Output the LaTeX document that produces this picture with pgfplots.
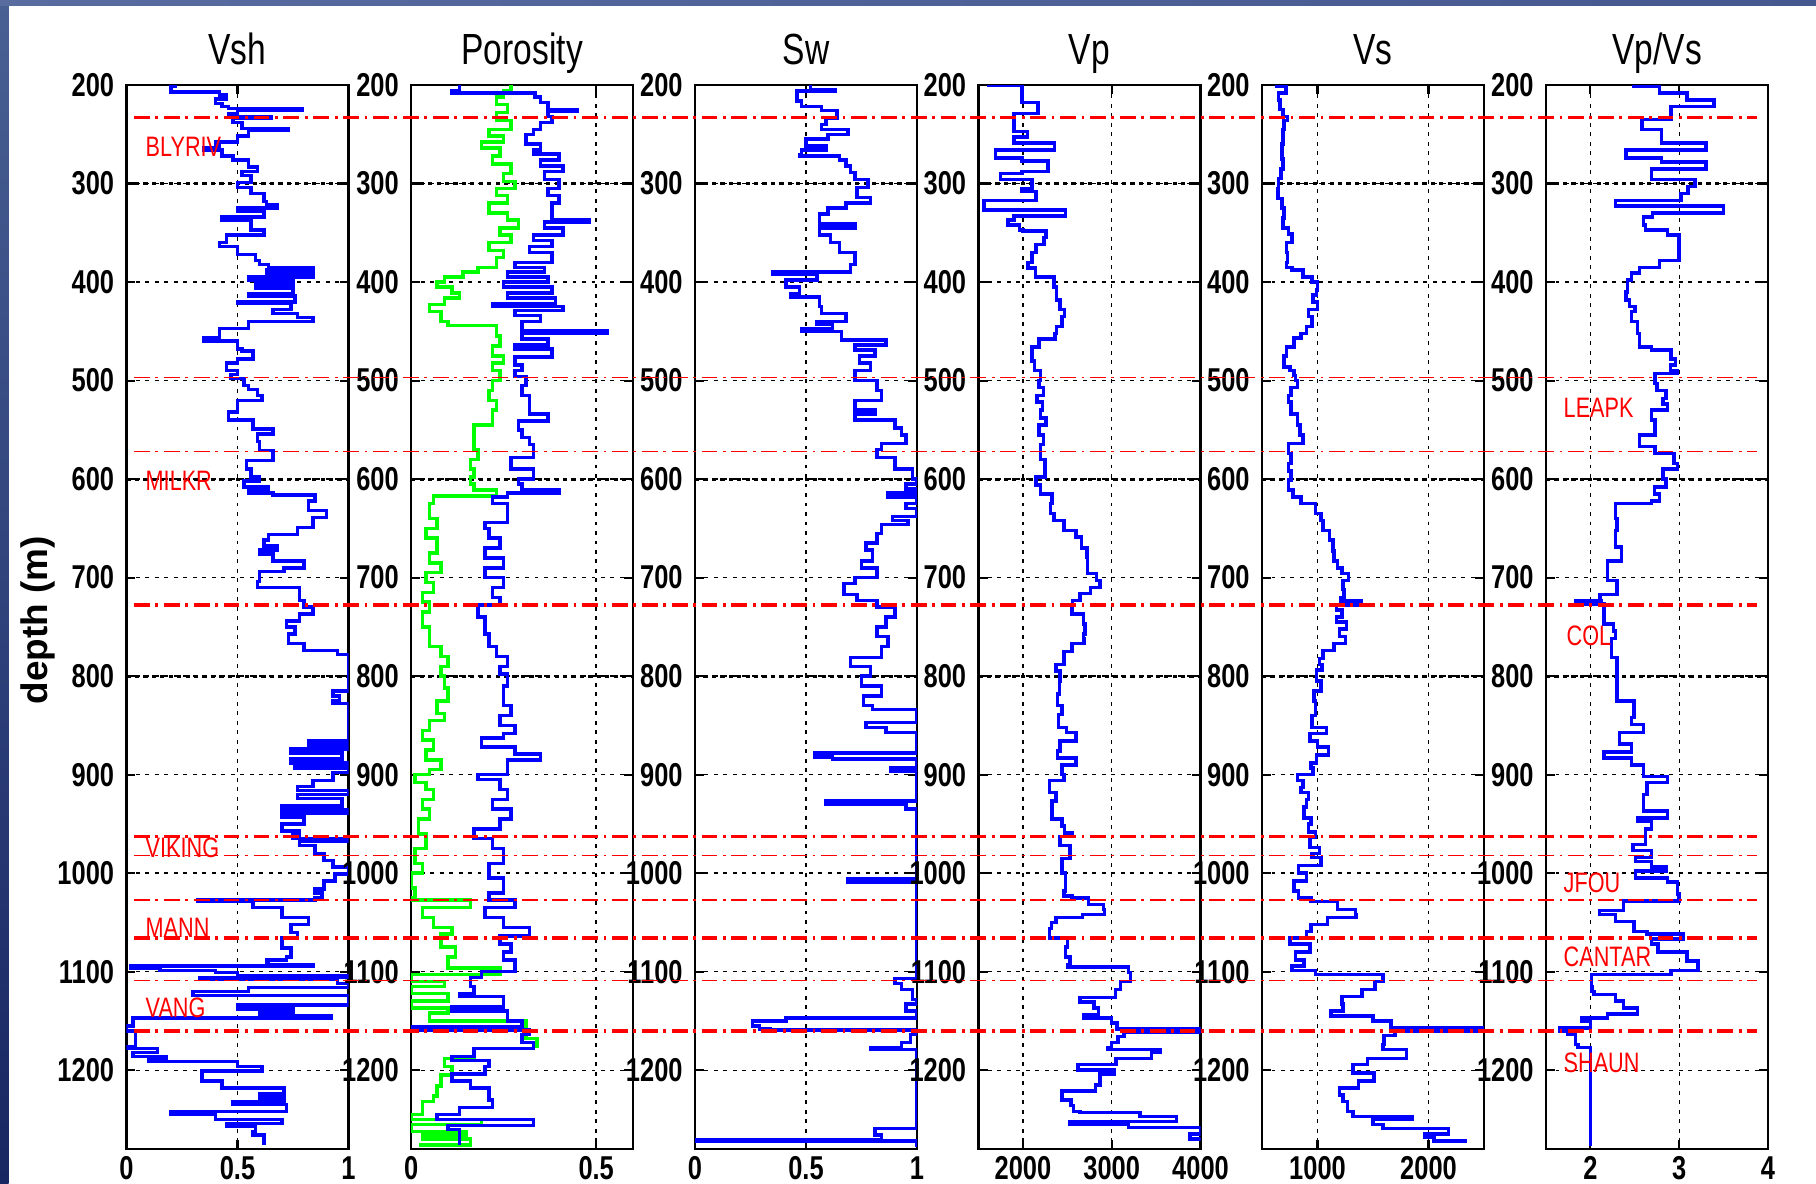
\documentclass[border=0pt]{standalone}
\usepackage{fontspec}
\setmainfont{Liberation Sans}
\newfontfamily\narrowfont[FakeStretch=0.77]{Liberation Sans}
\usepackage{pgfplots}
\pgfplotsset{compat=1.18}

\pgfplotsset{
  wellax/.style={
    scale only axis, width=22.2mm, height=106.4mm, anchor=south west,
    y dir=reverse, ymin=200, ymax=1280,
    ytick={200,300,...,1200},
    tick align=inside, tick pos=both,
    major tick length=0.9mm,
    grid=major,
    major grid style={black, line width=0.4pt, dash pattern=on 1.1pt off 1.6pt},
    axis line style={black, line width=0.6pt},
    every tick/.style={black, line width=0.6pt},
    ticklabel style={font=\narrowfont\bfseries\fontsize{9.4}{9.4}\selectfont, text=black},
    /pgf/number format/assume math mode=true,
    /pgf/number format/1000 sep={},
    xticklabel style={inner sep=1pt, yshift=-1pt},
    every axis title shift=0pt,
    title style={at={(0.5,1)}, anchor=base, yshift=2.1mm, inner sep=0pt,
      font=\narrowfont\fontsize{12.4}{12.4}\selectfont},
    extra y ticks={300,600,800}, extra y tick labels={},
    extra y tick style={grid=major, major grid style={black, line width=0.9pt, dash pattern=on 1.2pt off 1.2pt}},
  },
  logline/.style={const plot mark right, color={rgb,255:red,0;green,0;blue,255}, line width=1pt, line join=miter},
  topline/.style={red, line width=#1, dash pattern=on 4.5pt off 1.6pt on 0.8pt off 1.6pt},
}

\begin{document}
\begin{tikzpicture}
\useasboundingbox (0,0) rectangle (181.6mm,118.3mm);
\shade[top color={rgb,255:red,72;green,96;blue,148}, bottom color={rgb,255:red,24;green,38;blue,98}]
  (0,0) rectangle (0.85mm,118.3mm);
\shade[left color={rgb,255:red,88;green,108;blue,160}, middle color={rgb,255:red,170;green,184;blue,214}, right color={rgb,255:red,70;green,88;blue,144}]
  (0,117.7mm) rectangle (181.6mm,118.3mm);

% Vsh
\begin{axis}[wellax, at={(12.65mm,3.4mm)}, title={Vsh},
  xmin=0, xmax=1, xtick={0,0.5,1},
  ylabel={depth (m)},
  ylabel style={at={(axis description cs:-0.399,0.497)}, anchor=center,
    font=\bfseries\fontsize{10.5}{10.5}\selectfont}]
\addplot[logline] coordinates {
(0.22,200)(0.20,201)(0.20,206)(0.42,207)(0.45,210)(0.40,214)(0.43,219)(0.46,222)(0.79,224)(0.50,226)(0.46,229)(0.65,232)(0.48,234)(0.52,238)(0.73,244)(0.55,246)(0.50,252)(0.40,258)(0.42,262)(0.35,264)(0.43,266)(0.48,272)(0.55,276)(0.59,283)(0.52,288)(0.56,292)(0.50,299)(0.56,304)(0.62,310)(0.63,318)(0.68,322)(0.50,325)(0.62,328)(0.43,334)(0.56,337)(0.62,347)(0.45,352)(0.42,360)(0.50,364)(0.58,372)(0.60,378)(0.64,382)(0.84,386)(0.63,388)(0.84,392)(0.55,395)(0.75,398)(0.58,402)(0.75,406)(0.55,412)(0.76,414)(0.50,420)(0.74,422)(0.66,428)(0.77,432)(0.84,436)(0.55,440)(0.42,447)(0.35,457)(0.50,460)(0.52,468)(0.57,470)(0.50,478)(0.45,482)(0.50,490)(0.47,494)(0.53,498)(0.55,505)(0.59,509)(0.61,515)(0.50,520)(0.50,530)(0.46,532)(0.57,540)(0.66,549)(0.59,554)(0.60,562)(0.66,571)(0.66,574)(0.54,581)(0.56,590)(0.60,598)(0.53,602)(0.64,608)(0.55,612)(0.66,614)(0.85,616)(0.82,622)(0.90,632)(0.84,639)(0.77,649)(0.64,656)(0.62,662)(0.68,668)(0.60,672)(0.66,676)(0.80,683)(0.71,690)(0.60,694)(0.59,704)(0.78,710)(0.80,723)(0.84,730)(0.78,737)(0.72,744)(0.76,750)(0.73,757)(0.80,767)(0.95,774)(1.00,778)(1.00,812)(0.93,815)(0.96,820)(0.93,825)(1.00,828)(1.00,862)(0.82,866)(1.00,870)(0.74,874)(0.97,878)(0.74,884)(1.00,888)(0.76,890)(1.00,894)(0.93,898)(0.84,906)(0.77,912)(1.00,916)(0.77,920)(0.97,924)(0.70,932)(1.00,936)(0.70,939)(0.80,943)(0.70,950)(0.78,957)(0.75,961)(1.00,965)(0.78,968)(0.85,972)(0.89,980)(0.93,987)(1.00,994)(0.94,1001)(0.89,1008)(0.85,1016)(0.88,1020)(0.85,1025)(0.32,1027)(0.57,1028)(0.70,1035)(0.82,1045)(0.74,1052)(0.77,1060)(0.70,1066)(0.74,1076)(0.72,1085)(0.63,1088)(0.64,1091)(0.84,1093)(0.02,1094)(0.15,1097)(0.40,1099)(0.50,1101)(1.00,1104)(0.33,1106)(0.95,1108)(1.00,1112)(0.55,1116)(0.30,1120)(1.00,1124)(1.00,1131)(0.50,1134)(0.75,1138)(0.60,1142)(0.92,1145)(0.03,1147)(0.00,1155)(0.04,1160)(0.00,1176)(0.14,1178)(0.03,1182)(0.18,1186)(0.10,1188)(0.50,1191)(0.61,1196)(0.34,1201)(0.43,1211)(0.71,1218)(0.60,1224)(0.71,1228)(0.48,1232)(0.72,1235)(0.20,1242)(0.40,1245)(0.70,1250)(0.45,1254)(0.58,1257)(0.57,1262)(0.62,1266)(0.62,1276)};
\end{axis}

% Porosity
\begin{axis}[wellax, at={(41.12mm,3.4mm)}, title={Porosity},
  xmin=0, xmax=0.6, xtick={0,0.5}]
\addplot[logline, color={rgb,255:red,0;green,255;blue,0}] coordinates {
(0.27,200)(0.25,206)(0.23,212)(0.26,220)(0.23,228)(0.27,236)(0.21,245)(0.25,252)(0.19,258)(0.24,264)(0.22,272)(0.27,280)(0.25,290)(0.28,298)(0.23,305)(0.26,312)(0.21,320)(0.26,330)(0.29,337)(0.24,345)(0.27,352)(0.21,360)(0.25,368)(0.23,375)(0.18,385)(0.14,390)(0.09,395)(0.07,400)(0.11,405)(0.13,411)(0.09,416)(0.05,423)(0.08,430)(0.10,440)(0.23,444)(0.24,455)(0.22,465)(0.25,475)(0.22,482)(0.24,490)(0.22,500)(0.21,510)(0.23,520)(0.22,530)(0.17,545)(0.17,560)(0.18,570)(0.16,580)(0.17,590)(0.16,598)(0.17,605)(0.23,611)(0.06,617)(0.05,625)(0.07,640)(0.04,650)(0.07,660)(0.05,675)(0.08,685)(0.04,695)(0.06,705)(0.03,715)(0.05,725)(0.03,735)(0.05,750)(0.08,770)(0.10,780)(0.08,790)(0.09,800)(0.10,812)(0.07,825)(0.09,838)(0.05,845)(0.03,855)(0.06,865)(0.04,875)(0.08,885)(0.05,895)(0.01,900)(0.04,908)(0.06,915)(0.03,925)(0.05,935)(0.02,945)(0.04,960)(0.01,975)(0.03,990)(0.00,1000)(0.01,1015)(0.00,1025)(0.16,1027)(0.03,1035)(0.06,1045)(0.11,1055)(0.08,1062)(0.12,1075)(0.10,1085)(0.24,1096)(0.00,1103)(0.09,1110)(0.00,1115)(0.10,1122)(0.00,1130)(0.10,1137)(0.05,1142)(0.31,1150)(0.31,1158)(0.34,1168)(0.33,1176)(0.17,1178)(0.09,1188)(0.11,1196)(0.08,1205)(0.07,1216)(0.06,1226)(0.03,1232)(0.00,1245)(0.19,1250)(0.00,1255)(0.15,1262)(0.03,1266)(0.16,1270)(0.02,1276)};
\addplot[logline] coordinates {
(0.13,200)(0.11,206)(0.335,208)(0.35,212)(0.37,218)(0.45,225)(0.37,227)(0.38,232)(0.35,238)(0.33,245)(0.31,250)(0.35,260)(0.33,266)(0.40,270)(0.35,276)(0.41,282)(0.36,288)(0.40,296)(0.37,305)(0.40,312)(0.38,320)(0.48,337)(0.36,339)(0.41,345)(0.33,352)(0.38,358)(0.32,364)(0.38,370)(0.28,380)(0.36,385)(0.26,390)(0.37,395)(0.25,400)(0.38,405)(0.26,411)(0.39,416)(0.22,422)(0.41,425)(0.28,429)(0.35,434)(0.30,440)(0.53,449)(0.30,452)(0.37,458)(0.28,464)(0.38,468)(0.28,476)(0.30,484)(0.28,490)(0.31,496)(0.30,505)(0.32,515)(0.37,534)(0.29,541)(0.30,550)(0.32,558)(0.33,565)(0.27,578)(0.33,590)(0.29,600)(0.30,605)(0.40,611)(0.26,614)(0.22,618)(0.26,625)(0.20,644)(0.21,650)(0.24,660)(0.20,670)(0.25,680)(0.20,690)(0.25,700)(0.22,710)(0.24,720)(0.18,728)(0.20,740)(0.21,757)(0.23,770)(0.26,780)(0.24,790)(0.26,798)(0.25,810)(0.27,830)(0.24,840)(0.28,850)(0.25,858)(0.19,863)(0.28,872)(0.35,879)(0.26,885)(0.18,900)(0.24,905)(0.26,915)(0.22,925)(0.27,935)(0.24,945)(0.17,955)(0.22,965)(0.25,975)(0.21,990)(0.25,1005)(0.21,1020)(0.28,1027)(0.20,1035)(0.25,1045)(0.32,1055)(0.24,1064)(0.27,1072)(0.25,1080)(0.28,1088)(0.19,1100)(0.16,1106)(0.17,1115)(0.13,1122)(0.25,1125)(0.11,1136)(0.26,1140)(0.30,1150)(0.00,1156)(0.32,1159)(0.30,1164)(0.33,1172)(0.31,1178)(0.17,1178)(0.11,1186)(0.21,1190)(0.20,1196)(0.11,1204)(0.16,1211)(0.21,1218)(0.22,1230)(0.13,1238)(0.07,1245)(0.33,1250)(0.10,1256)(0.13,1260)(0.13,1276)};
\end{axis}

% Sw
\begin{axis}[wellax, at={(69.5mm,3.4mm)}, title={Sw},
  xmin=0, xmax=1, xtick={0,0.5,1}]
\addplot[logline] coordinates {
(0.52,200)(0.52,203)(0.63,205)(0.46,206)(0.46,210)(0.48,216)(0.57,222)(0.64,226)(0.59,234)(0.57,240)(0.69,245)(0.60,250)(0.50,255)(0.59,262)(0.48,266)(0.47,271)(0.65,272)(0.68,276)(0.70,282)(0.72,289)(0.78,296)(0.73,304)(0.79,314)(0.68,320)(0.60,325)(0.56,331)(0.72,341)(0.56,345)(0.61,352)(0.65,360)(0.72,370)(0.70,382)(0.35,390)(0.55,392)(0.41,398)(0.47,405)(0.43,412)(0.56,415)(0.57,425)(0.68,432)(0.55,440)(0.62,443)(0.48,447)(0.66,450)(0.86,459)(0.72,464)(0.81,469)(0.74,475)(0.79,482)(0.72,490)(0.82,500)(0.84,510)(0.72,520)(0.81,530)(0.72,534)(0.90,540)(0.93,548)(0.95,555)(0.84,564)(0.82,570)(0.90,578)(0.98,590)(1.00,600)(0.95,605)(1.00,610)(0.87,614)(1.00,618)(0.95,625)(1.00,630)(0.89,638)(0.96,642)(0.84,646)(0.82,655)(0.77,665)(0.80,672)(0.75,683)(0.82,690)(0.72,700)(0.67,706)(0.73,717)(0.82,723)(0.90,730)(0.86,740)(0.82,750)(0.87,760)(0.84,770)(0.70,781)(0.79,790)(0.75,800)(0.84,810)(0.76,820)(0.80,830)(1.00,834)(1.00,842)(0.77,847)(0.86,852)(1.00,857)(1.00,875)(0.54,878)(0.62,882)(1.00,884)(0.88,893)(1.00,897)(1.00,925)(0.59,927)(0.95,930)(1.00,935)(1.00,1004)(0.69,1006)(1.00,1009)(1.00,1105)(0.90,1107)(0.93,1112)(0.98,1118)(1.00,1128)(0.95,1133)(1.00,1140)(0.41,1147)(0.26,1150)(0.29,1155)(0.34,1158)(1.00,1159)(0.97,1164)(0.93,1172)(0.79,1177)(1.00,1179)(1.00,1258)(0.81,1259)(0.84,1266)(0.00,1271)(1.00,1272)(1.00,1278)};
\end{axis}

% Vp
\begin{axis}[wellax, at={(97.85mm,3.4mm)}, title={Vp},
  xmin=1500, xmax=4000, xtick={2000,3000,4000}]
\addplot[logline] coordinates {
(1590,200)(1990,200)(1990,218)(2170,218)(2170,228)(1900,229)(1900,246)(2050,247)(2050,252)(1900,253)(1900,258)(2355,259)(2355,266)(1690,266)(1690,273)(1990,274)(1990,276)(2280,277)(2280,287)(1990,288)(1750,290)(1750,295)(2100,296)(2100,303)(1990,305)(2150,308)(2150,316)(1560,317)(1560,326)(2480,327)(2480,330)(1900,333)(1830,337)(1960,342)(2000,347)(2260,348)(2240,355)(2150,362)(2100,370)(2060,380)(2140,386)(2350,395)(2380,405)(2420,418)(2470,428)(2440,435)(2380,445)(2360,452)(2180,458)(2100,466)(2130,480)(2200,490)(2180,500)(2230,507)(2160,515)(2220,522)(2200,530)(2260,538)(2180,545)(2230,555)(2200,565)(2250,580)(2150,598)(2200,606)(2330,615)(2310,625)(2350,635)(2460,642)(2600,652)(2660,659)(2720,670)(2730,679)(2830,696)(2870,703)(2760,710)(2640,716)(2560,723)(2550,729)(2680,737)(2700,747)(2680,757)(2690,762)(2550,767)(2460,775)(2370,788)(2420,795)(2410,805)(2390,818)(2440,830)(2400,839)(2490,852)(2600,857)(2420,866)(2390,876)(2600,883)(2440,890)(2460,900)(2300,906)(2370,918)(2330,927)(2330,935)(2440,945)(2470,952)(2550,959)(2420,963)(2530,972)(2440,985)(2480,1000)(2460,1018)(2550,1023)(2740,1025)(2910,1032)(2920,1037)(2670,1042)(2370,1045)(2320,1050)(2300,1056)(2500,1066)(2480,1075)(2530,1085)(2500,1093)(3190,1095)(3210,1101)(3100,1110)(3040,1118)(3040,1123)(2640,1126)(2800,1131)(2850,1137)(2690,1144)(3000,1147)(3060,1152)(3060,1156)(4000,1158)(4000,1160)(3140,1161)(3070,1166)(3000,1172)(2960,1177)(3550,1179)(3450,1182)(3050,1188)(3050,1191)(2620,1194)(3030,1200)(2870,1204)(2820,1215)(2440,1221)(2540,1230)(2570,1236)(2640,1242)(3320,1243)(3730,1247)(3730,1250)(2530,1252)(3190,1255)(4000,1258)(4000,1259)(3880,1265)(4000,1270)};
\end{axis}

% Vs
\begin{axis}[wellax, at={(126.2mm,3.4mm)}, title={Vs},
  xmin=500, xmax=2500, xtick={1000,2000}]
\addplot[logline] coordinates {
(630,200)(715,201)(715,206)(650,208)(660,215)(690,225)(730,232)(700,236)(690,245)(680,260)(690,275)(670,285)(650,295)(645,305)(680,315)(700,325)(690,335)(740,345)(770,351)(720,360)(730,370)(720,380)(770,385)(870,388)(950,395)(1000,400)(990,408)(960,413)(1000,420)(920,428)(950,435)(900,445)(850,452)(790,457)(720,466)(700,475)(750,486)(790,490)(800,495)(820,500)(760,507)(740,515)(760,522)(820,534)(840,545)(870,555)(740,564)(760,574)(740,584)(760,592)(740,601)(780,611)(850,618)(980,625)(1030,635)(1050,642)(1110,652)(1140,662)(1150,673)(1180,683)(1220,690)(1280,696)(1230,703)(1240,712)(1210,720)(1390,724)(1170,728)(1220,733)(1170,740)(1260,745)(1200,752)(1250,760)(1150,767)(1050,774)(1020,782)(1040,788)(990,794)(1030,805)(970,815)(980,825)(950,840)(1080,852)(930,858)(1000,866)(1100,872)(990,880)(940,888)(960,893)(820,900)(870,906)(850,913)(920,918)(900,925)(880,933)(940,944)(920,950)(980,958)(930,964)(1020,974)(950,980)(1030,984)(830,992)(900,1000)(790,1008)(830,1018)(940,1025)(1180,1029)(1340,1037)(1350,1042)(1090,1045)(940,1052)(900,1059)(750,1066)(930,1072)(800,1080)(880,1088)(770,1094)(980,1099)(1590,1103)(1520,1110)(1400,1118)(1220,1125)(1230,1133)(1120,1140)(1500,1145)(1660,1150)(2510,1157)(1700,1160)(1600,1165)(1590,1174)(1800,1179)(1450,1188)(1320,1194)(1510,1203)(1370,1211)(1200,1218)(1230,1225)(1270,1232)(1320,1242)(1850,1247)(1500,1250)(1590,1255)(2180,1259)(1970,1265)(2050,1268)(2350,1272)};
\end{axis}

% Vp/Vs
\begin{axis}[wellax, at={(154.6mm,3.4mm)}, title={Vp/Vs},
  xmin=1.5, xmax=4, xtick={2,3,4}]
\addplot[logline] coordinates {
(2.49,200)(2.78,201)(2.78,206)(3.09,208)(3.09,214)(3.39,215)(3.39,221)(2.91,222)(2.91,234)(2.58,235)(2.58,244)(2.80,245)(2.80,258)(3.30,259)(3.30,264)(2.40,266)(2.40,273)(2.80,274)(2.80,277)(3.30,278)(3.30,283)(2.69,285)(2.69,295)(3.18,296)(3.10,303)(3.02,310)(2.28,317)(2.28,321)(3.50,323)(3.50,327)(2.70,330)(2.60,334)(2.62,342)(2.87,347)(3.00,352)(3.00,370)(2.78,378)(2.55,385)(2.46,391)(2.42,398)(2.40,410)(2.44,418)(2.50,425)(2.46,430)(2.53,440)(2.55,452)(2.69,466)(2.91,469)(2.96,478)(2.90,484)(2.98,490)(2.73,493)(2.75,503)(2.85,510)(2.82,518)(2.87,524)(2.69,530)(2.73,540)(2.55,555)(2.73,567)(2.94,574)(2.98,584)(2.82,590)(2.85,600)(2.72,608)(2.78,615)(2.69,622)(2.28,625)(2.30,640)(2.28,652)(2.35,669)(2.35,676)(2.19,683)(2.19,696)(2.30,703)(2.30,710)(2.11,717)(2.12,723)(1.83,724)(2.15,727)(2.15,734)(2.26,747)(2.28,754)(2.24,762)(2.24,767)(2.30,781)(2.30,798)(2.30,810)(2.30,822)(2.49,825)(2.46,842)(2.60,849)(2.33,857)(2.46,869)(2.15,877)(2.46,883)(2.60,890)(2.87,902)(2.64,908)(2.60,920)(2.60,930)(2.87,937)(2.53,944)(2.69,947)(2.62,955)(2.62,961)(2.48,971)(2.69,977)(2.51,984)(2.69,988)(2.85,994)(2.51,998)(2.87,1005)(2.98,1009)(2.98,1015)(3.00,1021)(2.37,1028)(2.10,1038)(2.28,1042)(2.49,1049)(2.64,1059)(3.05,1062)(2.69,1067)(2.76,1072)(3.09,1080)(3.21,1089)(3.21,1094)(2.91,1099)(2.01,1103)(2.02,1115)(2.04,1120)(2.28,1123)(2.37,1130)(2.53,1137)(2.19,1143)(1.90,1147)(2.00,1150)(1.65,1157)(1.74,1160)(1.83,1164)(1.86,1174)(2.00,1177)(2.00,1277)};
\end{axis}

% formation tops, drawn across all tracks (x in picture pixels)
\begin{axis}[scale only axis, width=181.6mm, height=106.4mm, anchor=south west,
  at={(0mm,3.4mm)}, xmin=0, xmax=1816, ymin=200, ymax=1280, y dir=reverse,
  hide axis, clip=false]
\addplot[topline=0.7pt] coordinates {(134,233) (1757,233)};
\addplot[topline=0.5pt] coordinates {(134,497) (1757,497)};
\addplot[topline=0.5pt] coordinates {(134,572) (1757,572)};
\addplot[topline=1.1pt] coordinates {(134,728) (1757,728)};
\addplot[topline=0.7pt] coordinates {(134,963) (1757,963)};
\addplot[topline=0.5pt] coordinates {(134,982) (1757,982)};
\addplot[topline=0.7pt] coordinates {(134,1027) (1757,1027)};
\addplot[topline=1.1pt] coordinates {(134,1066) (1757,1066)};
\addplot[topline=0.5pt] coordinates {(134,1109) (1757,1109)};
\addplot[topline=1.0pt] coordinates {(134,1160) (1757,1160)};
\begin{scope}[every node/.style={anchor=west, inner sep=0pt, text=red,
    font=\narrowfont\fontsize{8}{8}\selectfont}]
\node at (axis cs:145,263) {BLYRIV};
\node at (axis cs:145,602) {MILKR};
\node at (axis cs:145,974) {VIKING};
\node at (axis cs:145,1055) {MANN};
\node at (axis cs:145,1137) {VANG};
\node at (axis cs:1563,528) {LEAPK};
\node at (axis cs:1566,759) {COL};
\node at (axis cs:1563,1010) {JFOU};
\node at (axis cs:1563,1085) {CANTAR};
\node at (axis cs:1563,1193) {SHAUN};
\end{scope}
\end{axis}
\end{tikzpicture}
\end{document}
